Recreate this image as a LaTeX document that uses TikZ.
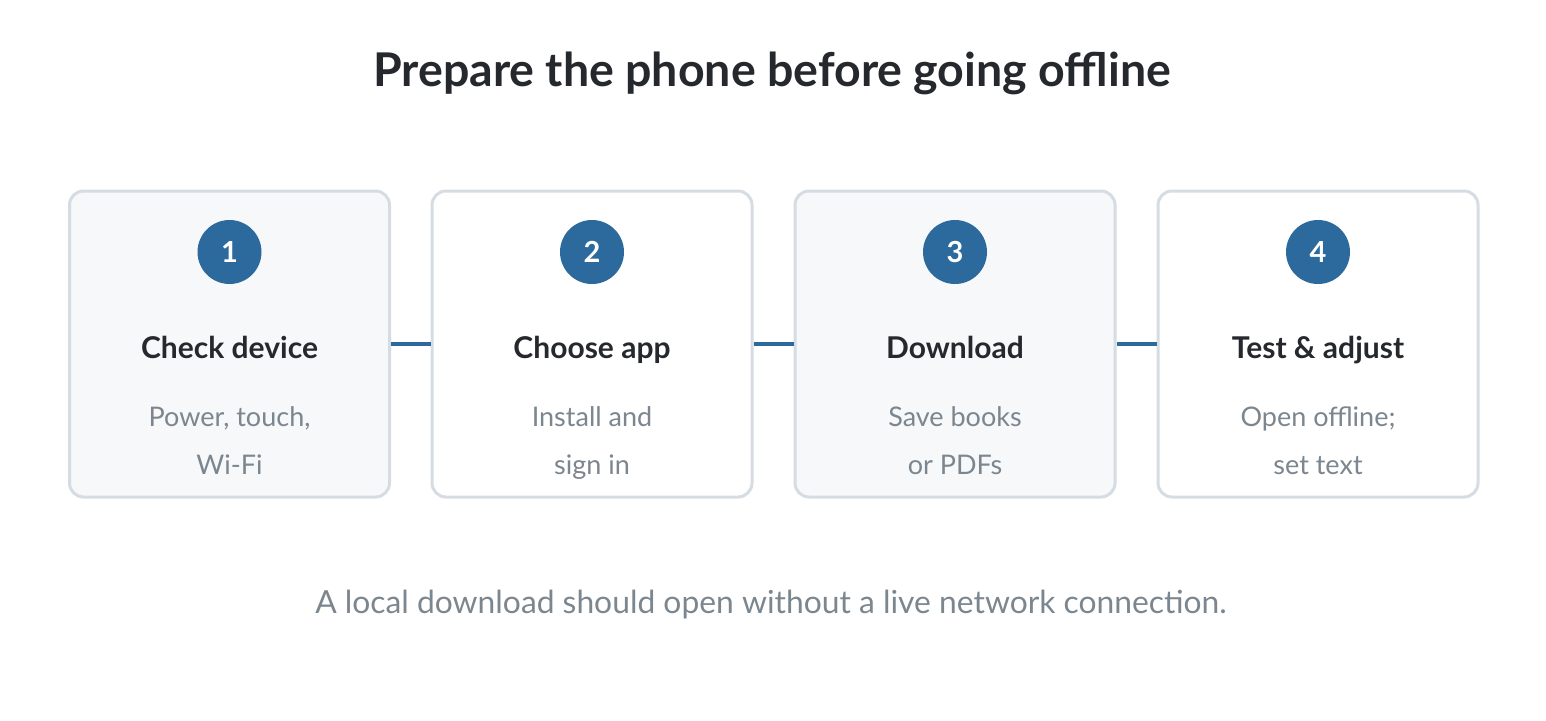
\documentclass[tikz,border=0pt]{standalone}
\usepackage{fontspec}
\setmainfont{Lato}
\definecolor{boxline}{HTML}{D5DCE3}
\definecolor{boxfillA}{HTML}{F6F8FA}
\definecolor{stepblue}{HTML}{2C6A9E}
\definecolor{titlecol}{HTML}{25282C}
\definecolor{subcol}{HTML}{7C868F}
\tikzset{
  card/.style={draw=boxline, line width=3pt, rounded corners=14pt, minimum width=320pt, minimum height=306pt, inner sep=0pt},
  badge/.style={circle, fill=stepblue, minimum size=64pt, inner sep=0pt, text=white, font=\fontsize{29}{32}\selectfont\bfseries},
  heading/.style={anchor=base, inner sep=0pt, text=titlecol, font=\fontsize{30}{34}\selectfont\bfseries},
  subtext/.style={anchor=base, inner sep=0pt, text=subcol, font=\fontsize{27}{32}\selectfont},
  link/.style={draw=stepblue, line width=4pt}
}
\begin{document}
\begin{tikzpicture}[x=1pt,y=-1pt]
\useasboundingbox (0,0) rectangle (1546,720);
\node[anchor=base, inner sep=0pt, text=titlecol, font=\fontsize{46.5}{50}\selectfont\bfseries] (title) at (772,86) {Prepare the phone before going offline};
\node[card, fill=boxfillA] (c1) at (229.5,344) {};
\node[card, fill=white] (c2) at (592,344) {};
\node[card, fill=boxfillA] (c3) at (955,344) {};
\node[card, fill=white] (c4) at (1318,344) {};
\foreach \i/\x/\h/\sa/\sb in {1/229.5/Check device/{Power, touch,}/Wi-Fi, 2/592/Choose app/Install and/sign in, 3/955/Download/Save books/or PDFs, 4/1318/Test \& adjust/Open offline;/set text}{
  \node[badge] (b\i) at (\x,252) {\i};
  \node[heading] (h\i) at (\x,358) {\h};
  \node[subtext] (sa\i) at (\x,426) {\sa};
  \node[subtext] (sb\i) at (\x,474) {\sb};
}
\draw[link] (c1.east) -- (c2.west);
\draw[link] (c2.east) -- (c3.west);
\draw[link] (c3.east) -- (c4.west);
\node[anchor=base, inner sep=0pt, text=subcol, font=\fontsize{31.8}{36}\selectfont] (foot) at (771,613) {A local download should open without a live network connection.};
\end{tikzpicture}
\end{document}
